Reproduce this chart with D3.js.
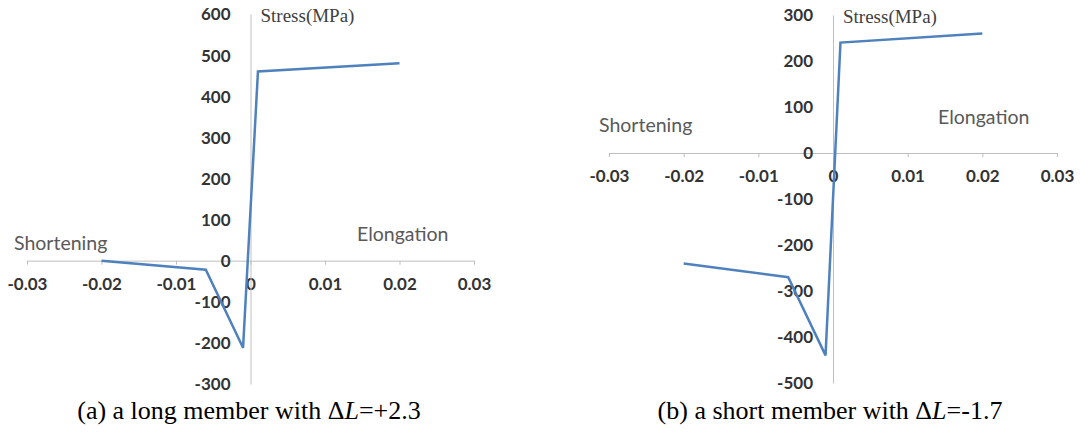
<!DOCTYPE html>
<html>
<head>
<meta charset="utf-8">
<script src="https://cdn.jsdelivr.net/npm/d3@7"></script>
<style>
  body { margin: 0; background: #fff; }
  .tick text { font-family: Lato, "Liberation Sans", sans-serif; font-weight: bold; font-size: 17px; fill: #333; }
  .side { font-family: Lato, "Liberation Sans", sans-serif; font-size: 19.5px; fill: #595959; }
  .ylab { font-family: "Liberation Serif", serif; font-size: 19px; fill: #404040; }
  .caption { font-family: "Liberation Serif", serif; font-size: 26px; fill: #000; }
</style>
</head>
<body>
<div id="chart"></div>
<script>
// strain values (same for both members)
var strain = [-0.02, -0.006, -0.001, 0.001, 0.02];

// stress (MPa)
var stressLong = [0, -22, -212, 460, 480];
var stressShort = [-240, -270, -440, 240, 260];

var xTicks = [-0.03, -0.02, -0.01, 0, 0.01, 0.02, 0.03];
var yTicksLong = [-300, -200, -100, 0, 100, 200, 300, 400, 500, 600];
var yTicksShort = [-500, -400, -300, -200, -100, 0, 100, 200, 300];

var svgWidth = 1080;
var svgHeight = 432;

var svg = d3.select("#chart")
  .append("svg")
  .attr("width", svgWidth)
  .attr("height", svgHeight);

// plain hyphen instead of the unicode minus d3 uses
function fmt(p) {
  return d => d === 0 ? "0" : d3.format(p)(d).replace("\u2212", "-");
}

function drawPanel(opt) {
  var x = d3.scaleLinear().domain([-0.03, 0.03]).range(opt.xRange);
  var y = d3.scaleLinear().domain(opt.yDomain).range(opt.yRange);

  var g = svg.append("g");

  // x axis through zero
  var xAxis = g.append("g")
    .attr("transform", `translate(0, ${y(0)})`)
    .call(d3.axisBottom(x).tickValues(xTicks).tickSize(4).tickSizeOuter(0).tickPadding(13)
      .tickFormat(fmt(".2f")));
  xAxis.select(".domain").attr("stroke", "#bfbfbf");
  xAxis.selectAll(".tick line").attr("stroke", "#bfbfbf");

  // y axis through zero
  var yAxis = g.append("g")
    .attr("transform", `translate(${x(0)}, 0)`)
    .call(d3.axisLeft(y).tickValues(opt.yTicks).tickSize(0).tickPadding(20)
      .tickFormat(fmt("d")));
  yAxis.select(".domain").attr("stroke", "#bfbfbf");
  yAxis.selectAll(".tick text").attr("dy", "0.35em");

  var line = d3.line()
    .x((d, i) => x(strain[i]))
    .y(d => y(d));

  g.append("path")
    .datum(opt.stress)
    .attr("fill", "none")
    .attr("stroke", "#4f81bd")
    .attr("stroke-width", 2.5)
    .attr("d", line);

  g.append("text")
    .classed("ylab", true)
    .attr("x", x(0) + 10)
    .attr("y", opt.labY)
    .text("Stress(MPa)");

  g.append("text")
    .classed("side", true)
    .attr("x", opt.shortPos[0])
    .attr("y", opt.shortPos[1])
    .text("Shortening");

  g.append("text")
    .classed("side", true)
    .attr("x", opt.elongPos[0])
    .attr("y", opt.elongPos[1])
    .text("Elongation");

  var cap = g.append("text")
    .classed("caption", true)
    .attr("x", opt.capX)
    .attr("y", 419)
    .attr("text-anchor", "middle");
  cap.append("tspan").text(opt.capA);
  cap.append("tspan").attr("font-style", "italic").text("L");
  cap.append("tspan").text(opt.capB);
}

drawPanel({
  xRange: [27, 474],
  yDomain: [-300, 600],
  yRange: [384, 14],
  yTicks: yTicksLong,
  stress: stressLong,
  labY: 22,
  shortPos: [14, 250],
  elongPos: [357, 241],
  capX: 249,
  capA: "(a) a long member with \u0394",
  capB: "=+2.3"
});

drawPanel({
  xRange: [609, 1057],
  yDomain: [-500, 300],
  yRange: [383, 15],
  yTicks: yTicksShort,
  stress: stressShort,
  labY: 23,
  shortPos: [599, 132],
  elongPos: [938, 124],
  capX: 830,
  capA: "(b) a short member with \u0394",
  capB: "=-1.7"
});
</script>
</body>
</html>
